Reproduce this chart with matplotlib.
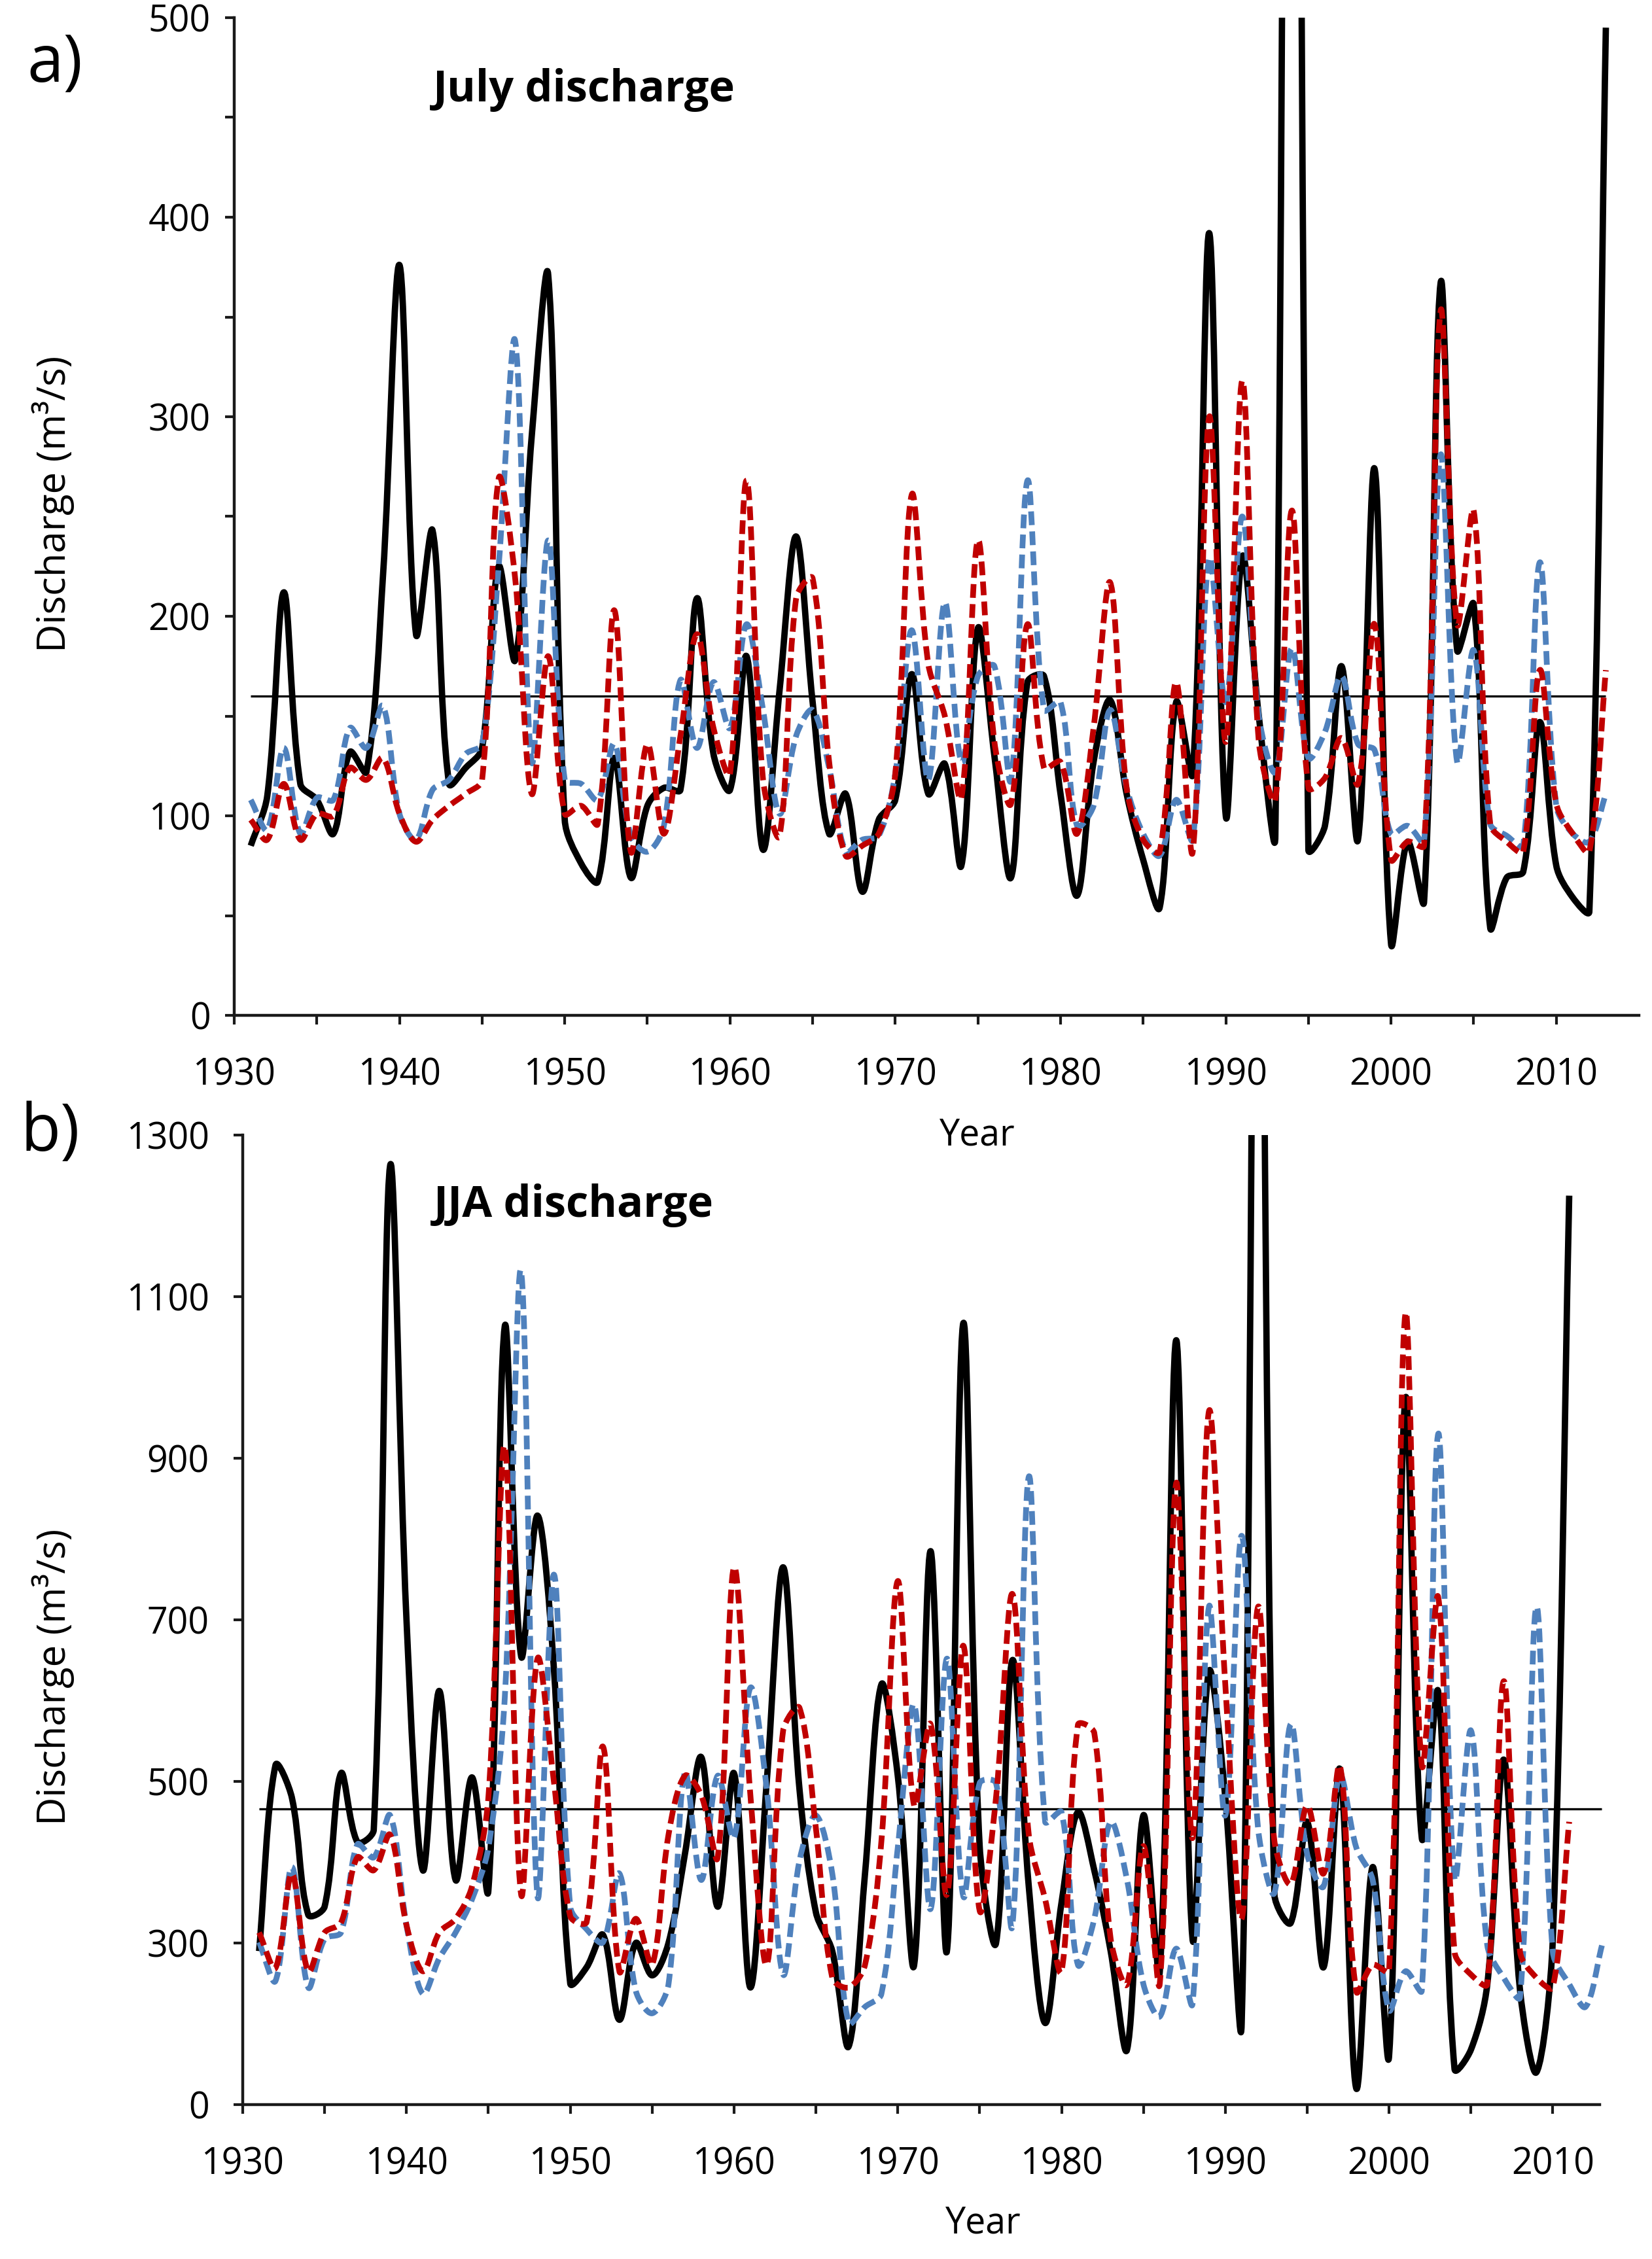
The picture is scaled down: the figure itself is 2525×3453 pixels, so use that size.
"""
Two-panel discharge figure: a) July discharge, b) JJA discharge.
Observed series (black) plus two reconstructions (red / blue dashed),
drawn with Excel-style smoothed lines and the long-term mean as a thin rule.
"""

import numpy as np
import matplotlib
matplotlib.use('Agg')
import matplotlib.pyplot as plt
from matplotlib.path import Path
from matplotlib.patches import PathPatch

plt.rcParams['font.family'] = ['Open Sans', 'DejaVu Sans']

# ── Data ─────────────────────────────────────────────────────────────────────
YEARS_FULL = list(range(1931, 2014))   # 1931-2013
YEARS_OBS_JJA = list(range(1931, 2012))  # 1931-2011

JULY_OBS = [85, 110, 212, 116, 108, 91, 132, 122, 220, 376,
            191, 243, 116, 124, 134, 225, 178, 290, 371, 98,
            76, 67, 129, 69, 105, 114, 113, 209, 131, 113,
            180, 83, 163, 240, 157, 91, 111, 62, 98, 108,
            171, 111, 126, 75, 194, 130, 69, 167, 170, 111,
            60, 127, 158, 111, 78, 54, 157, 121, 392, 100,
            230, 150, 90, 1400, 83, 95, 175, 88, 274, 36,
            87, 57, 367, 183, 206, 44, 69, 72, 147, 75,
            59, 52, 495]
JULY_RED = [98, 88, 116, 88, 101, 100, 124, 118, 129, 101,
            87, 98, 105, 111, 118, 269, 219, 111, 180, 101,
            105, 96, 203, 82, 136, 91, 140, 191, 144, 121,
            268, 118, 90, 209, 219, 127, 80, 85, 91, 121,
            261, 176, 150, 109, 238, 137, 106, 196, 124, 127,
            91, 144, 217, 114, 88, 82, 167, 82, 300, 137,
            318, 137, 108, 253, 114, 119, 139, 116, 196, 78,
            87, 85, 353, 196, 253, 96, 87, 82, 173, 106,
            91, 82, 173]
JULY_BLUE = [108, 93, 134, 91, 109, 108, 144, 134, 155, 101,
             88, 113, 118, 131, 136, 225, 338, 127, 238, 118,
             116, 108, 136, 90, 82, 95, 168, 134, 167, 144,
             196, 153, 101, 140, 153, 124, 82, 88, 90, 121,
             193, 118, 207, 127, 170, 175, 118, 268, 153, 157,
             95, 105, 153, 114, 91, 80, 108, 88, 229, 157,
             250, 150, 122, 184, 129, 142, 170, 136, 133, 91,
             95, 87, 281, 127, 183, 96, 90, 85, 227, 105,
             91, 87, 111]
JULY_MEAN = 160

JJA_OBS = [290, 520, 480, 335, 345, 510, 425, 440, 1262, 700,
           390, 612, 378, 505, 365, 1063, 655, 829, 640, 250,
           270, 310, 205, 300, 260, 300, 410, 530, 345, 510,
           245, 500, 765, 490, 338, 290, 172, 386, 620, 507,
           273, 785, 290, 1067, 420, 300, 650, 370, 201, 350,
           462, 390, 290, 168, 458, 265, 1046, 305, 636, 480,
           201, 2000, 360, 325, 450, 270, 515, 120, 394, 160,
           974, 430, 611, 144, 168, 249, 527, 241, 140, 305,
           1225]
JJA_RED = [313, 269, 386, 265, 313, 325, 406, 390, 434, 322,
           265, 313, 330, 370, 480, 915, 360, 652, 500, 333,
           326, 543, 265, 330, 273, 434, 507, 483, 406, 765,
           483, 273, 563, 591, 442, 257, 245, 273, 426, 748,
           470, 571, 360, 668, 340, 480, 732, 434, 354, 265,
           570, 560, 305, 249, 420, 250, 869, 430, 958, 620,
           330, 716, 426, 373, 470, 386, 519, 240, 273, 265,
           1079, 520, 728, 289, 261, 249, 624, 289, 257, 245,
           450]
JJA_BLUE = [301, 253, 394, 245, 305, 313, 422, 406, 458, 322,
            237, 281, 313, 354, 418, 603, 1131, 358, 756, 345,
            317, 301, 386, 241, 213, 249, 511, 378, 507, 430,
            616, 490, 261, 402, 458, 386, 201, 221, 237, 418,
            595, 342, 652, 358, 498, 498, 322, 877, 450, 462,
            273, 330, 450, 378, 249, 209, 293, 225, 716, 458,
            804, 442, 362, 571, 410, 370, 507, 418, 378, 217,
            265, 241, 930, 380, 563, 297, 257, 233, 716, 289,
            249, 221, 297]
JJA_MEAN = 466

JULY_YTICKS = [0, 100, 200, 300, 400, 500]
JULY_YMINOR = [50, 150, 250, 350, 450]
JJA_YTICKS = [100, 300, 500, 700, 900, 1100, 1300]
JJA_YTICK_LABELS = ['0', '300', '500', '700', '900', '1100', '1300']
XTICKS = [1930, 1940, 1950, 1960, 1970, 1980, 1990, 2000, 2010]
XMINOR = [1935, 1945, 1955, 1965, 1975, 1985, 1995, 2005]

# ── Style ────────────────────────────────────────────────────────────────────
COLOUR_OBS = '#000000'
COLOUR_RED = '#C00000'
COLOUR_BLUE = '#4F81BD'
DASH = (0, (2.4, 1.1))
LW_OBS = 7.0
LW_DASH = 6.3
W, H, DPI = 2525, 3453, 100


def excel_smooth_path(ax, xs, ys):
    """Bezier path through the points, control points weighted by segment
    length in screen space (the way Excel's 'smoothed line' behaves)."""
    pts = ax.transData.transform(np.column_stack([xs, ys]).astype(float))
    n = len(pts)
    verts, codes = [pts[0]], [Path.MOVETO]
    for i in range(n - 1):
        p0 = pts[i - 1] if i > 0 else pts[i]
        p1, p2 = pts[i], pts[i + 1]
        p3 = pts[i + 2] if i + 2 < n else pts[i + 1]
        d01 = np.hypot(*(p1 - p0))
        d12 = np.hypot(*(p2 - p1))
        d23 = np.hypot(*(p3 - p2))
        w1 = d12 / (d01 + d12) if d01 + d12 > 0 else 0.0
        w2 = d12 / (d12 + d23) if d12 + d23 > 0 else 0.0
        c1 = p1 + (p2 - p0) * w1 / 3.0
        c2 = p2 - (p3 - p1) * w2 / 3.0
        verts += [c1, c2, p2]
        codes += [Path.CURVE4] * 3
    verts = ax.transData.inverted().transform(np.array(verts))
    return Path(verts, codes)


def add_series(ax, xs, ys, colour, lw, dashed, z):
    path = excel_smooth_path(ax, xs, ys)
    patch = PathPatch(path, fill=False, edgecolor=colour, linewidth=lw,
                      linestyle=DASH if dashed else '-', zorder=z,
                      capstyle='butt', joinstyle='round')
    ax.add_patch(patch)


def style_axes(ax, ypad):
    for side in ('top', 'right'):
        ax.spines[side].set_visible(False)
    for side in ('left', 'bottom'):
        ax.spines[side].set_linewidth(3.2)
        ax.spines[side].set_color('#1a1a1a')
    ax.tick_params(axis='both', which='both', direction='out', length=10,
                   width=3, color='#1a1a1a', labelsize=40)
    ax.tick_params(axis='x', which='major', pad=36)
    ax.tick_params(axis='y', which='major', pad=ypad)
    ax.set_xticks(XTICKS)
    ax.set_xticks(XMINOR, minor=True)
    ax.autoscale(False)


fig = plt.figure(figsize=(W / DPI, H / DPI), dpi=DPI)
fig.patch.set_facecolor('white')

# ── Panel a: July ────────────────────────────────────────────────────────────
ax1 = fig.add_axes([358 / W, 1 - 1552 / H, (2505 - 358) / W, (1552 - 27) / H])
ax1.set_xlim(1930, 2015)
ax1.set_ylim(0, 500)
style_axes(ax1, ypad=16)
ax1.set_yticks(JULY_YTICKS)
ax1.set_yticks(JULY_YMINOR, minor=True)
ax1.hlines(JULY_MEAN, YEARS_FULL[0], YEARS_FULL[-1], color='black', lw=2.4, zorder=1)
add_series(ax1, YEARS_FULL, JULY_OBS, COLOUR_OBS, LW_OBS, False, 2)
add_series(ax1, YEARS_FULL, JULY_BLUE, COLOUR_BLUE, LW_DASH, True, 3)
add_series(ax1, YEARS_FULL, JULY_RED, COLOUR_RED, LW_DASH, True, 4)

# ── Panel b: JJA ─────────────────────────────────────────────────────────────
ax2 = fig.add_axes([371 / W, 1 - 3217 / H, (2456 - 371) / W, (3217 - 1735) / H])
ax2.set_xlim(1930, 2013.3)
ax2.set_ylim(100, 1300)
style_axes(ax2, ypad=27)
ax2.spines['bottom'].set_bounds(1930, 2012.85)
ax2.set_yticks(JJA_YTICKS)
ax2.set_yticklabels(JJA_YTICK_LABELS)
ax2.hlines(JJA_MEAN, YEARS_FULL[0], YEARS_FULL[-1], color='black', lw=2.4, zorder=1)
add_series(ax2, YEARS_OBS_JJA, JJA_OBS, COLOUR_OBS, LW_OBS, False, 2)
add_series(ax2, YEARS_FULL, JJA_BLUE, COLOUR_BLUE, LW_DASH, True, 3)
add_series(ax2, YEARS_OBS_JJA, JJA_RED, COLOUR_RED, LW_DASH, True, 4)

# ── Text ─────────────────────────────────────────────────────────────────────
fig.text(84 / W, 1 - 99 / H, 'a)', fontsize=72, ha='center', va='center')
fig.text(77 / W, 1 - 1733 / H, 'b)', fontsize=72, ha='center', va='center')
fig.text(662 / W, 1 - 155 / H, 'July discharge', fontsize=48,
         fontweight='bold', ha='left', va='baseline')
fig.text(663 / W, 1 - 1860 / H, 'JJA discharge', fontsize=48,
         fontweight='bold', ha='left', va='baseline')
fig.text(1494 / W, 1 - 1750 / H, 'Year', fontsize=40, ha='center', va='baseline')
fig.text(1503 / W, 1 - 3413 / H, 'Year', fontsize=40, ha='center', va='baseline')
fig.text(81 / W, 1 - 770 / H, 'Discharge (m³/s)', fontsize=43,
         rotation=90, ha='center', va='center')
fig.text(81 / W, 1 - 2563 / H, 'Discharge (m³/s)', fontsize=43,
         rotation=90, ha='center', va='center')

fig.savefig('out.png', dpi=DPI, facecolor='white')
